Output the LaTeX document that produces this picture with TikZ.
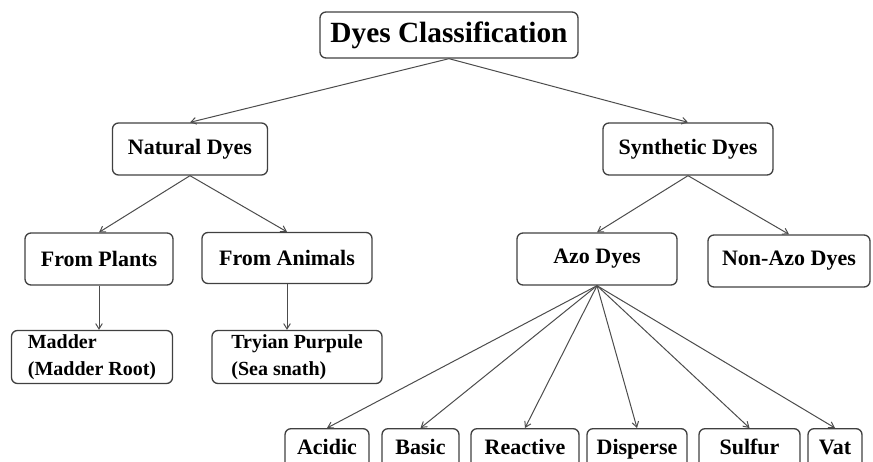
\documentclass[tikz,border=0pt]{standalone}
\usepackage{fontspec}
\setmainfont{Liberation Serif}
\usetikzlibrary{arrows.meta}

\begin{document}
\begin{tikzpicture}[x=0.75pt, y=-0.75pt,
    % rounded boxes of the tree
    dyebox/.style={draw=black!75, line width=1pt, rounded corners=4.5pt,
        inner sep=2pt, font=\fontsize{16.5}{20}\selectfont\bfseries},
    % boxes of the last row, cut by the lower edge
    lowbox/.style={dyebox, anchor=north, minimum height=0pt, inner ysep=4.5pt,
        text height=14.5pt, text depth=19pt},
    % connectors
    link/.style={draw=black!70, line width=0.75pt, -{Straight Barb[length=4pt,width=5pt]}}]

    % keep the frame of the reference
    \clip (0,0) rectangle (873,461);

    % Root of the tree
    \node[dyebox, minimum width=193.5pt, minimum height=34.5pt,
        font=\fontsize{22}{26}\selectfont\bfseries] (root) at (449,35) {Dyes Classification};

    % Second level
    \node[dyebox, minimum width=116.25pt, minimum height=39pt] (natural) at (190,149) {Natural Dyes};
    \node[dyebox, minimum width=127.5pt, minimum height=39pt] (synthetic) at (688,149) {Synthetic Dyes};

    % Natural branch
    \node[dyebox, minimum width=111pt, minimum height=39pt] (plants) at (99,259) {From Plants};
    \node[dyebox, minimum width=127.5pt, minimum height=38.25pt] (animals) at (287,258) {From Animals};
    \node[dyebox, minimum width=120.75pt, minimum height=39.75pt, align=left,
        font=\fontsize{15}{20}\selectfont\bfseries] (madder) at (92,357) {Madder\\(Madder Root)};
    \node[dyebox, minimum width=127.5pt, minimum height=39.75pt, align=left,
        font=\fontsize{15}{20}\selectfont\bfseries] (tryian) at (297,357) {Tryian Purpule\\(Sea snath)};

    % Synthetic branch
    \node[dyebox, minimum width=120pt, minimum height=39pt] (azo) at (597,259) {Azo Dyes};
    \node[dyebox, minimum width=121.5pt, minimum height=39pt] (nonazo) at (789,261) {Non-Azo Dyes};

    % Kinds of azo dyes
    \node[lowbox, minimum width=63pt] (acidic) at (327,428) {Acidic};
    \node[lowbox, minimum width=57.75pt] (basic) at (420.5,428) {Basic};
    \node[lowbox, minimum width=81pt] (reactive) at (525,428) {Reactive};
    \node[lowbox, minimum width=75pt] (disperse) at (637,428) {Disperse};
    \node[lowbox, minimum width=75.75pt] (sulfur) at (749.5,428) {Sulfur};
    \node[lowbox, minimum width=40.5pt] (vat) at (835,428) {Vat};

    % Connectors
    \draw[link] (root.south) -- (natural.north);
    \draw[link] (root.south) -- (synthetic.north);
    \draw[link] (natural.south) -- (plants.north);
    \draw[link] (natural.south) -- (animals.north);
    \draw[link] (plants.south) -- (plants.south |- madder.north);
    \draw[link] (animals.south) -- (animals.south |- tryian.north);
    \draw[link] (synthetic.south) -- (azo.north);
    \draw[link] (synthetic.south) -- (nonazo.north);
    \foreach \kind in {acidic, basic, reactive, disperse, sulfur, vat}
        \draw[link] (azo.south) -- (\kind.north);

\end{tikzpicture}
\end{document}
